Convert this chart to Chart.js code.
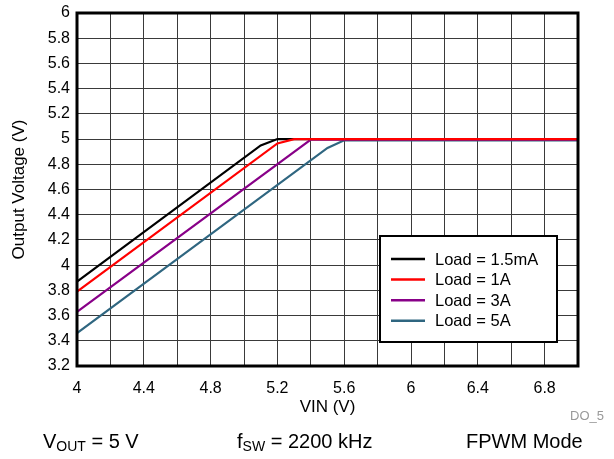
<!DOCTYPE html>
<html lang="en">
<head>
  <meta charset="UTF-8">
  <title>Output Voltage vs VIN</title>
  <script src="https://cdn.jsdelivr.net/npm/chart.js@4.4.0/dist/chart.umd.min.js"></script>
  <style>
    body { margin: 0; background: #fff; }
  </style>
</head>
<body>
<canvas id="myChart" width="614" height="459"></canvas>
<script>
    // curves: VIN (V) -> VOUT (V)
    const vin15mA = [4.0, 5.1, 5.2, 7.0];
    const vout15mA = [3.87, 4.95, 5.0, 5.0];
    const vin1A = [4.0, 5.2, 5.3, 7.0];
    const vout1A = [3.79, 4.965, 5.0, 5.0];
    const vin3A = [4.0, 5.4, 7.0];
    const vout3A = [3.63, 4.995, 4.995];
    const vin5A = [4.0, 5.5, 5.6, 7.0];
    const vout5A = [3.46, 4.93, 4.99, 4.99];

    const loadLabels = ['Load = 1.5mA', 'Load = 1A', 'Load = 3A', 'Load = 5A'];
    const loadColors = ['#000000', '#ff0000', '#880088', '#2f6680'];
    const drawOrder = [3, 0, 1, 2];

    const FONT = '"Liberation Sans", Arial, sans-serif';

    function pts(xs, ys) {
        return xs.map((x, i) => ({x: x, y: ys[i]}));
    }
    const series = [
        pts(vin15mA, vout15mA),
        pts(vin1A, vout1A),
        pts(vin3A, vout3A),
        pts(vin5A, vout5A)
    ];

    const frame_and_legend = {
        id: 'frame_and_legend',
        afterDatasetsDraw: (chart) => {
            const ctx = chart.ctx;
            const a = chart.chartArea;
            ctx.save();
            // plot frame
            ctx.strokeStyle = '#000';
            ctx.lineWidth = 3;
            ctx.strokeRect(a.left, a.top, a.right - a.left, a.bottom - a.top);

            // legend box
            const bx = 380, by = 236, bw = 177, bh = 106;
            ctx.fillStyle = '#fff';
            ctx.fillRect(bx, by, bw, bh);
            ctx.lineWidth = 2;
            ctx.strokeRect(bx, by, bw, bh);
            ctx.font = '16.5px ' + FONT;
            ctx.textBaseline = 'middle';
            chart.data.datasets.forEach((ds, i) => {
                const y = 259 + i * 20.6;
                ctx.strokeStyle = ds.borderColor;
                ctx.lineWidth = 2.5;
                ctx.beginPath();
                ctx.moveTo(391, y);
                ctx.lineTo(425, y);
                ctx.stroke();
                ctx.fillStyle = '#000';
                ctx.fillText(ds.label, 435, y + 1);
            });

            // axis titles
            ctx.fillStyle = '#000';
            ctx.font = '17px ' + FONT;
            ctx.textAlign = 'center';
            ctx.fillText('VIN (V)', (a.left + a.right) / 2, 407);
            ctx.save();
            ctx.translate(19, (a.top + a.bottom) / 2);
            ctx.rotate(-Math.PI / 2);
            ctx.fillText('Output Voltage (V)', 0, 0);
            ctx.restore();

            // footer notes
            ctx.fillStyle = '#999';
            ctx.font = '13px ' + FONT;
            ctx.textAlign = 'right';
            ctx.fillText('DO_5', 604, 416);

            ctx.fillStyle = '#000';
            ctx.textAlign = 'left';
            ctx.textBaseline = 'alphabetic';
            const big = '20px ' + FONT, small = '14px ' + FONT;
            let x = 43;
            const base = 448;
            function put(t, f, dy) {
                ctx.font = f;
                ctx.fillText(t, x, base + dy);
                x += ctx.measureText(t).width;
            }
            put('V', big, 0); put('OUT', small, 3); put(' = 5 V', big, 0);
            x = 237;
            put('f', big, 0); put('SW', small, 3); put(' = 2200 kHz', big, 0);
            ctx.font = big;
            ctx.fillText('FPWM Mode', 466, base);
            ctx.restore();
        }
    };

    var ctx = document.getElementById('myChart');
    var myChart = new Chart(ctx, {
        type: 'scatter',
        data: {
            datasets: series.map((d, i) => ({
                label: loadLabels[i],
                data: d,
                showLine: true,
                borderColor: loadColors[i],
                backgroundColor: loadColors[i],
                borderWidth: 2.2,
                pointRadius: 0,
                tension: 0,
                order: drawOrder[i]
            }))
        },
        options: {
            responsive: false,
            animation: false,
            layout: { padding: { top: 13, right: 36, left: 0, bottom: 0 } },
            plugins: {
                legend: { display: false },
                tooltip: { enabled: false }
            },
            scales: {
                x: {
                    type: 'linear',
                    min: 4, max: 7,
                    afterFit: (s) => {
                        s.height = 93;
                        s.paddingLeft = 0;
                        s.paddingRight = 0;
                    },
                    border: { display: false },
                    grid: { color: '#3a3a3a', lineWidth: 1, drawTicks: false },
                    ticks: {
                        stepSize: 0.2,
                        autoSkip: false,
                        maxRotation: 0,
                        padding: 13,
                        color: '#000',
                        font: { family: FONT, size: 16 },
                        callback: (v, i) => (i % 2 === 0 && v < 6.95) ? String(Math.round(v * 10) / 10) : ''
                    }
                },
                y: {
                    type: 'linear',
                    min: 3.2, max: 6,
                    afterFit: (s) => {
                        s.width = 77;
                        s.paddingTop = 0;
                        s.paddingBottom = 0;
                    },
                    border: { display: false },
                    grid: { color: '#3a3a3a', lineWidth: 1, drawTicks: false },
                    ticks: {
                        stepSize: 0.2,
                        autoSkip: false,
                        padding: 7,
                        color: '#000',
                        font: { family: FONT, size: 16 },
                        callback: (v) => String(Math.round(v * 10) / 10)
                    }
                }
            }
        },
        plugins: [frame_and_legend]
    });
</script>
</body>
</html>
